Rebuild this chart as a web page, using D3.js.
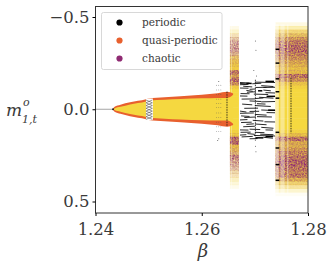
<!DOCTYPE html>
<html><head><meta charset="utf-8">
<script src="https://cdn.jsdelivr.net/npm/d3@7"></script>
<style>html,body{margin:0;padding:0;background:#fff}svg{display:block}svg text{font-family:"DejaVu Serif",serif !important;fill:#3a3a3a}</style>
</head><body><svg id="c" width="333" height="268"></svg>
<script>
const xTicks=[1.24,1.26,1.28];
const yTicks=[-0.5,0,0.5];
const legendLabels=["periodic","quasi-periodic","chaotic"];
const legendColors=["#000000","#e8602e","#8f2a72"];
const envBeta=[1.2433,1.2436,1.2447,1.2465,1.2495,1.25,1.253,1.256,1.26,1.263,1.2648,1.2659];
const envM=[0,0.009,0.019,0.032,0.048,0.052,0.058,0.063,0.069,0.074,0.078,0.082];
const wedgeW=[0.003,0.005,0.006,0.006,0.006,0.006,0.007,0.008,0.010,0.013,0.017,0.004];
const mLevels=[-.46,-.44,-.42,-.40,-.38,-.36,-.34,-.32,-.30,-.28,-.26,-.24,-.22,-.20,-.18,-.16,-.14,-.12,-.10,-.08,-.06,-.04,-.02,0,.02,.04,.06,.08,.10,.12,.14,.16,.18,.20,.22,.24,.26,.28,.30,.32,.34,.36,.38,.40,.42,.44,.46];
const rightYellow=[.15,.4,.7,.85,.95,1,1,1,1,1,1,1,1,1,1,1,1,1,1,1,1,1,1,1,1,1,1,1,1,1,1,1,1,1,1,1,1,1,1,1,1,1,.95,.75,.5,.25,.05];
const rightPurple=[0,0,.1,.3,.6,.85,.95,.95,.8,.65,.5,.35,.25,.3,.9,.6,.2,.05,0,0,0,0,0,0,0,0,0,0,0,.05,.25,.9,.45,.4,.6,.75,.9,1,1,.9,.75,.85,.45,.15,.05,0,0];
const leftYellow=[0,.12,.25,.35,.4,.4,.45,.45,.55,.8,.95,1,1,1,1,1,1,1,1,1,1,1,1,1,1,1,1,1,1,1,1,1,1,1,.9,.75,.6,.5,.45,.4,.4,.35,.3,.2,.1,0,0];
const leftPurple=[0,0,0,.1,.35,.55,.65,.65,.45,.3,.25,.2,.1,.95,.5,1,.7,.1,0,0,0,0,0,0,0,0,0,0,0,.05,.2,1,1,.3,.35,.5,.85,.6,.55,.4,.2,.1,.02,0,0,0,0];
const rightBand=[1.2739,1.28];
const leftBand=[1.2653,1.2670];
const paleStripes=[[1.2739,1.2745,.55],[1.2748,1.2756,.4],[1.2761,1.2763,.5],[1.2655,1.2657,.3]];
const periodicSegs=[
[1.2672,1.2690,-.145],[1.2672,1.2688,-.133],[1.2678,1.2695,-.125],[1.2672,1.2688,-.115],[1.2695,1.2712,-.138],[1.2700,1.2738,-.147],[1.2712,1.2735,-.128],[1.2702,1.2722,-.118],[1.2672,1.2685,-.140],[1.2690,1.2702,-.108],[1.2716,1.2730,-.104],
[1.2673,1.2690,-.085],[1.2685,1.2702,-.092],[1.2698,1.2725,-.082],[1.2708,1.2735,-.065],[1.2675,1.2700,-.055],[1.2690,1.2712,-.045],[1.2712,1.2738,-.040],[1.2676,1.2695,-.028],[1.2672,1.2686,-.072],[1.2700,1.2716,-.058],[1.2720,1.2738,-.090],
[1.2700,1.2730,-.020],[1.2680,1.2706,-.005],[1.2712,1.2738,.004],[1.2672,1.2698,.022],[1.2700,1.2722,.028],[1.2722,1.2738,.018],[1.2680,1.2702,.045],[1.2704,1.2732,.040],[1.2672,1.2684,.010],[1.2690,1.2708,.012],[1.2674,1.2690,.036],
[1.2674,1.2694,.072],[1.2696,1.2716,.060],[1.2718,1.2738,.068],[1.2678,1.2700,.095],[1.2690,1.2710,.108],[1.2712,1.2735,.098],[1.2673,1.2692,.125],[1.2698,1.2738,.142],[1.2672,1.2686,.058],[1.2700,1.2722,.080],[1.2672,1.2688,.112],
[1.2675,1.2696,.150],[1.2700,1.2718,.125],[1.2716,1.2734,.152],[1.2690,1.2705,.160],[1.2710,1.2735,.135],[1.2672,1.2684,.140],[1.2686,1.2700,.132],[1.2720,1.2734,.112],[1.2684,1.2698,.082],[1.2704,1.2720,-.030],[1.2684,1.2696,-.102],[1.2716,1.2738,-.118]];
const segTilt=[.003,-.002,.004,.001,-.003,.002,.005,-.001];
const thickSegs=[[1.2720,1.2736,-.151],[1.2722,1.2738,-.070],[1.2725,1.2738,.005],[1.2720,1.2734,.148],[1.2706,1.2714,-.100],[1.2684,1.2694,-.140],[1.2702,1.2716,.155],[1.2739,1.2746,-.165],[1.2739,1.2746,-.095],[1.2739,1.2746,-.060],[1.2739,1.2746,-.25],[1.2739,1.2746,-.325],[1.2739,1.2746,.21],[1.2739,1.2746,.30],[1.2739,1.2746,.385],[1.2739,1.2746,.125]];
const vertDots=[[1.26475,-.095,.095],[1.2701,-.16,.17],[1.2768,-.17,.13]];
const stackM=[-.13,-.105,-.08,-.055,-.03,-.01,.02,.045,.07,.095,.12];
const stackBeta=[1.2628,1.2632,1.2636];
const looseDots=[[1.2701,-.37],[1.2702,-.32],[1.2698,-.21],[1.2703,-.18],[1.2701,.2],[1.2702,.23],[1.2632,-.15],[1.2632,.16],[1.2630,.17]];
const hatchM=[-.05,-.035,-.02,-.005,.01,.025,.04];

const svg=d3.select("#c");
const x=d3.scaleLinear().domain([1.24,1.28]).range([95.5,308]);
const y=d3.scaleLinear().domain([-0.5,0.5]).range([17,201.5]);
const left=95.5,right=308,top_=6.5,bottom=213;

const defs=svg.append("defs");
const f=defs.append("filter").attr("id","speck").attr("x",0).attr("y",0).attr("width","100%").attr("height","100%");
f.append("feTurbulence").attr("type","fractalNoise").attr("baseFrequency","0.7").attr("numOctaves",2).attr("seed",4).attr("result","n");
f.append("feColorMatrix").attr("in","n").attr("type","matrix").attr("values","0 0 0 0 0 0 0 0 0 0 0 0 0 0 0 1.1 1.1 0 0 -0.45").attr("result","m");
f.append("feComposite").attr("in","SourceGraphic").attr("in2","m").attr("operator","in");
f.append("feGaussianBlur").attr("stdDeviation",0.35);

const yellow="#f5d840",purple="#8f2a72",orange="#e8602e";
function band(b,ya,pa){
  const h=Math.abs(y(mLevels[1])-y(mLevels[0]))+.5;
  svg.append("g").selectAll("rect").data(mLevels).join("rect")
    .attr("x",x(b[0])).attr("width",x(b[1])-x(b[0])).attr("y",d=>y(d)-h/2).attr("height",h)
    .attr("fill",yellow).attr("fill-opacity",(d,i)=>ya[i]);
  svg.append("g").attr("filter","url(#speck)").selectAll("rect").data(mLevels).join("rect")
    .attr("x",x(b[0])).attr("width",x(b[1])-x(b[0])).attr("y",d=>y(d)-h/2).attr("height",h)
    .attr("fill",purple).attr("fill-opacity",(d,i)=>pa[i]);
}
svg.append("line").attr("x1",x(1.24)).attr("x2",x(envBeta[0])).attr("y1",y(0)).attr("y2",y(0)).attr("stroke","#a5a5a5").attr("stroke-width",1);

band(leftBand,leftYellow,leftPurple);
band(rightBand,rightYellow,rightPurple);
svg.append("g").selectAll("rect").data(paleStripes).join("rect")
  .attr("x",d=>x(d[0])).attr("width",d=>x(d[1])-x(d[0])).attr("y",y(-.46)).attr("height",y(.46)-y(-.46))
  .attr("fill","#fff").attr("fill-opacity",d=>d[2]);

const env=envBeta.map((b,i)=>({b,m:envM[i],w:wedgeW[i]}));
svg.append("path").datum(env).attr("fill",yellow)
  .attr("d",d3.area().x(d=>x(d.b)).y0(d=>y(-d.m)).y1(d=>y(d.m)).curve(d3.curveMonotoneX));
[1,-1].forEach(s=>{
  svg.append("path").datum(env).attr("fill",orange)
   .attr("d",d3.area().x(d=>x(d.b)).y0(d=>y(s*(d.m-d.w))).y1(d=>y(s*(d.m+d.w))).curve(d3.curveMonotoneX));
});
svg.append("rect").attr("x",x(1.2495)).attr("width",x(1.2507)-x(1.2495)+.6).attr("y",y(-.058)).attr("height",y(.058)-y(-.058)).attr("fill","#fff");
const hatch=svg.append("g").attr("stroke","#444").attr("stroke-width",.55).attr("fill","none");
hatchM.forEach(m=>{
  hatch.append("line").attr("x1",x(1.2495)).attr("x2",x(1.2507)).attr("y1",y(m)).attr("y2",y(m+.015));
  hatch.append("line").attr("x1",x(1.2495)).attr("x2",x(1.2507)).attr("y1",y(m+.015)).attr("y2",y(m));
});
svg.append("circle").attr("cx",x(envBeta[0])).attr("cy",y(0)).attr("r",1).attr("fill","#222");

svg.append("g").attr("stroke","#111").attr("fill","none").selectAll("line").data(periodicSegs).join("line")
  .attr("x1",d=>x(d[0])).attr("x2",d=>x(d[1])).attr("y1",d=>y(d[2])).attr("y2",(d,i)=>y(d[2]+segTilt[i%segTilt.length])).attr("stroke-width",.9);
svg.append("g").attr("stroke","#000").selectAll("line").data(thickSegs).join("line")
  .attr("x1",d=>x(d[0])).attr("x2",d=>x(d[1])).attr("y1",d=>y(d[2])).attr("y2",d=>y(d[2])).attr("stroke-width",1.5);
svg.append("g").attr("stroke","#111").attr("stroke-dasharray","1.5 1").selectAll("line").data(vertDots).join("line")
  .attr("x1",d=>x(d[0])).attr("x2",d=>x(d[0])).attr("y1",d=>y(d[1])).attr("y2",d=>y(d[2])).attr("stroke-width",.8);
stackBeta.forEach(b=>svg.append("g").selectAll("circle").data(stackM).join("circle")
  .attr("cx",x(b)).attr("cy",d=>y(d)).attr("r",.4).attr("fill","#555"));
svg.append("g").selectAll("circle").data(looseDots).join("circle")
  .attr("cx",d=>x(d[0])).attr("cy",d=>y(d[1])).attr("r",.5).attr("fill","#555");

svg.append("rect").attr("x",left).attr("y",top_).attr("width",right-left).attr("height",bottom-top_).attr("fill","none").attr("stroke","#333").attr("stroke-width",1);

const ax=d3.axisBottom(x).tickValues(xTicks).tickSize(3).tickFormat(d3.format(".2f"));
const gx=svg.append("g").attr("transform",`translate(0,${bottom})`).call(ax);
gx.select(".domain").remove();
gx.selectAll("text").attr("font-size",16.5).attr("dy",0).attr("y",22);
const ay=d3.axisLeft(y).tickValues(yTicks).tickSize(3).tickFormat(d=>d<0?"\u2212"+Math.abs(d).toFixed(1):d.toFixed(1));
const gy=svg.append("g").attr("transform",`translate(${left},0)`).call(ay);
gy.select(".domain").remove();
gy.selectAll("text").attr("font-size",16.5).attr("x",-6);

const lg=svg.append("g");
lg.append("rect").attr("x",101.5).attr("y",12.5).attr("width",120.5).attr("height",57).attr("rx",2).attr("fill","#fff").attr("fill-opacity",.85).attr("stroke","#d8d8d8").attr("stroke-width",1);
legendLabels.forEach((t,i)=>{
  const ly=22.5+i*18;
  lg.append("circle").attr("cx",119.5).attr("cy",ly).attr("r",3.1).attr("fill",legendColors[i]);
  lg.append("text").attr("x",142).attr("y",ly+3.5).attr("font-size",10.5).text(t);
});

svg.append("text").attr("x",203).attr("y",257).attr("text-anchor","middle").attr("font-size",18).attr("font-style","italic").text("\u03B2");
svg.append("text").attr("x",6).attr("y",116).attr("font-size",17).attr("font-style","italic").text("m");
svg.append("text").attr("x",23).attr("y",106).attr("font-size",11).attr("font-style","italic").text("o");
svg.append("text").attr("x",22).attr("y",123).attr("font-size",11).attr("font-style","italic").text("1,t");
</script></body></html>
